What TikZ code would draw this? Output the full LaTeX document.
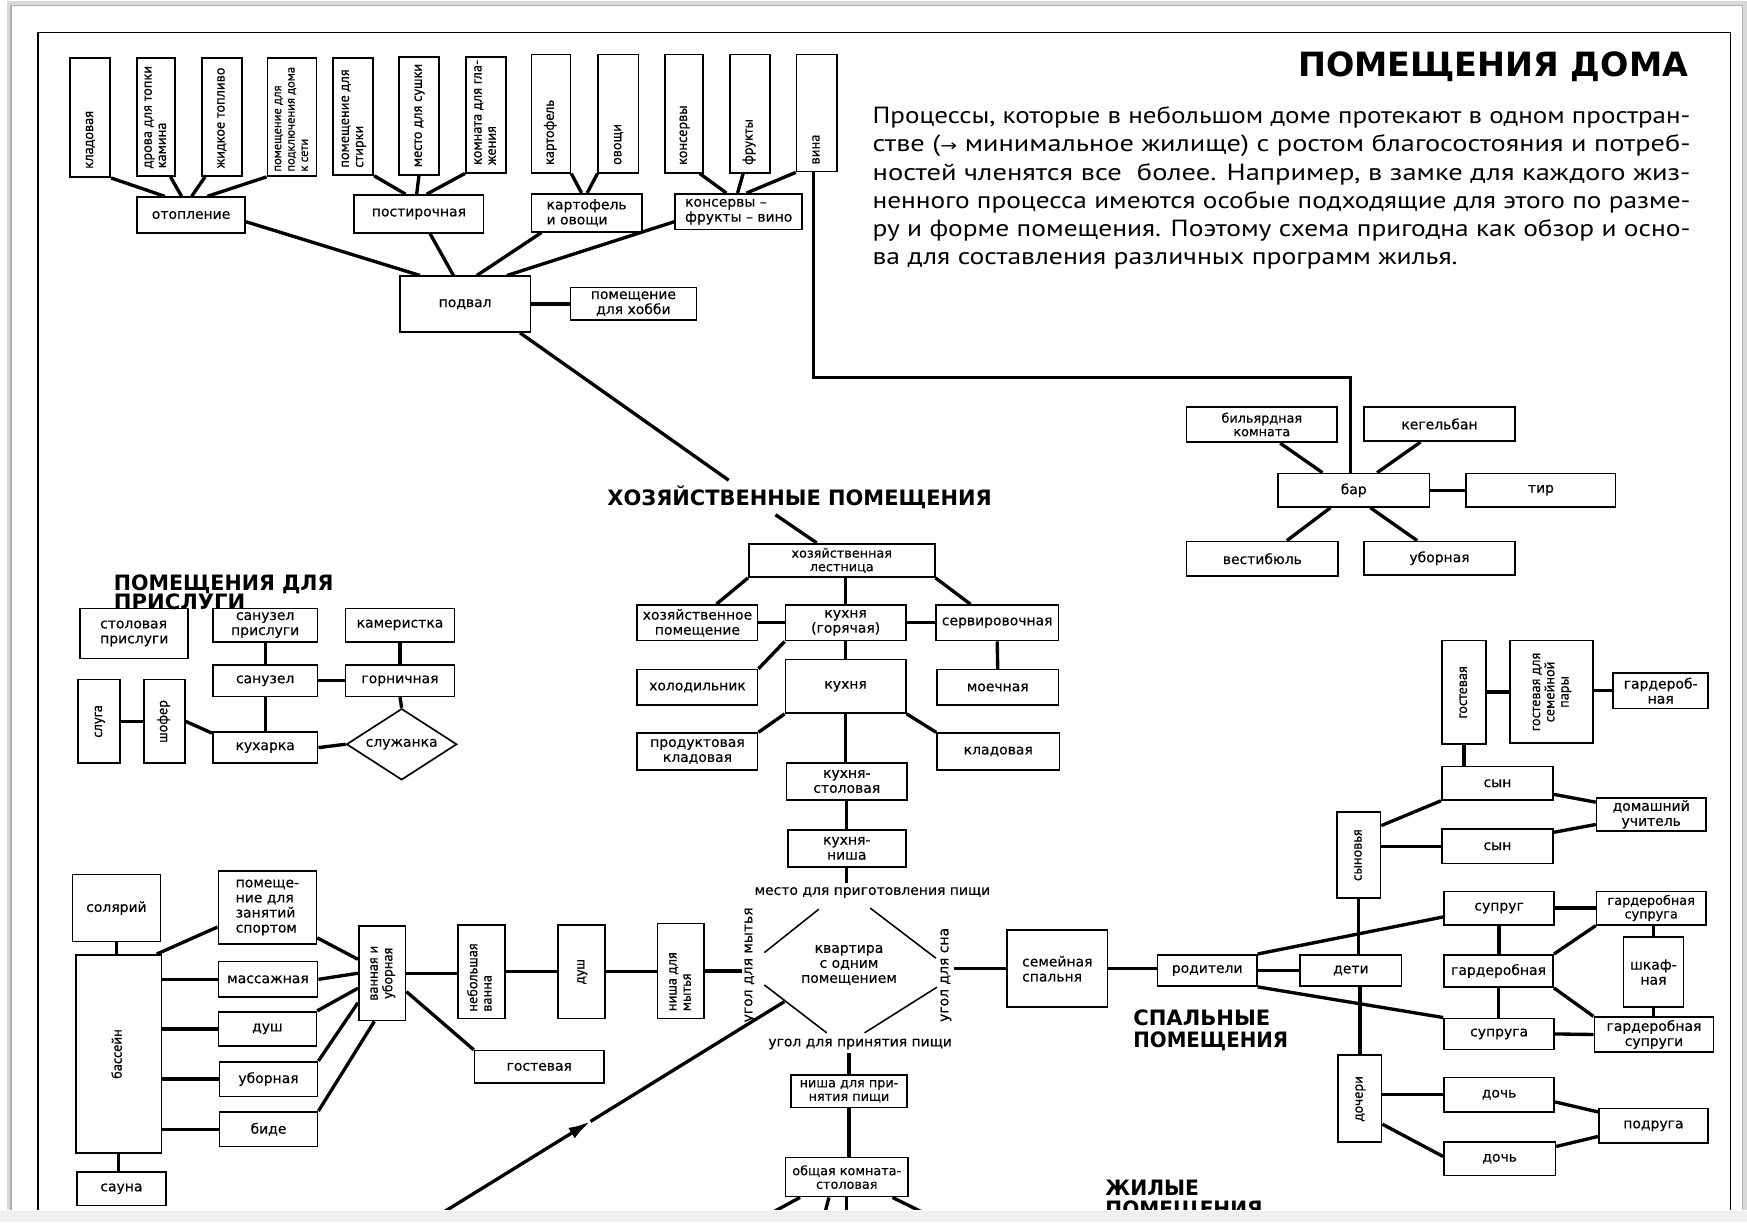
\documentclass[tikz,border=0pt]{standalone}
\usepackage{fontspec}
\usepackage{graphicx}
\usetikzlibrary{shapes.geometric,arrows.meta}
\newfontfamily\dvs{DejaVu Sans}
\newfontfamily\dvsl{DejaVu Sans}[FakeBold=0.35]
\newfontfamily\pts{PT Sans}
\newfontfamily\ptsl{PT Sans}[FakeBold=0.45]
\newcommand\lblf{\dvsl\fontsize{12.5}{13.5}\selectfont}
\newcommand\smf{\dvsl\fontsize{11.5}{12.2}\selectfont}
\newcommand\vlf{\ptsl\fontsize{12.8}{12.8}\selectfont}
\newcommand\vsf{\ptsl\fontsize{11.2}{12}\selectfont}
\newcommand\hdf{\dvs\bfseries\fontsize{19}{19}\selectfont}
\newcommand\ttlf{\dvs\bfseries\fontsize{30}{30}\selectfont}
\newcommand\parf{\pts\fontsize{21}{25}\selectfont}
\newcommand\vb[2]{\rotatebox{90}{\vlf\makebox[#1][l]{\begin{tabular}{@{}l@{}}#2\end{tabular}}}}
\newcommand\vbs[2]{\rotatebox{90}{\vsf\makebox[#1][l]{\begin{tabular}{@{}l@{}}#2\end{tabular}}}}
\newcommand\vcn[1]{\rotatebox{90}{\vlf\begin{tabular}{@{}c@{}}#1\end{tabular}}}
\newcommand\bx[7][]{\node[rbox,minimum width={#5-#3},minimum height={#6-#4},#1] (#2) at ({(#3+#5)/2},{(#4+#6)/2}) {#7};}
\tikzset{
  rbox/.style={draw, line width=1.5pt, inner sep=0pt, font=\lblf, align=center},
  con/.style={line width=3pt},
  thinl/.style={line width=1.4pt},
  hd/.style={anchor=base west, inner sep=0pt, font=\hdf},
  pl/.style={anchor=base west, inner sep=0pt, font=\parf}
}
\begin{document}
\begin{tikzpicture}[x=1pt,y=-1pt]
\useasboundingbox (0,0) rectangle (1568,1097);
\fill[white] (0,0) rectangle (1568,1097);
\fill[gray!12] (0,1087) rectangle (1568,1097);
\draw[gray!30, line width=4pt] (8,1086) -- (8,3) -- (1566,3) -- (1566,1086);
\draw[gray!60, line width=1.2pt] (10,1086) -- (10,5) -- (1564,5) -- (1564,1086);
\draw[line width=1.4pt] (34,1086) -- (34,29) -- (1553,29) -- (1553,1086);
\begin{scope}
\clip (0,0) rectangle (1568,1086);
% ---------- title and paragraph ----------
\node[anchor=base west, inner sep=0pt, font=\ttlf] (title) at (1165,69) {\resizebox{350pt}{\height}{ПОМЕЩЕНИЯ ДОМА}};
\node[pl] (p1) at (783,111) {\resizebox{734pt}{\height}{Процессы, которые в небольшом доме протекают в одном простран-}};
\node[pl] (p2) at (783,136.3) {\resizebox{734pt}{\height}{стве ({\dvs\fontsize{15}{15}\selectfont →} минимальное жилище) с ростом благосостояния и потреб-}};
\node[pl] (p3) at (783,161.6) {\resizebox{734pt}{\height}{ностей членятся все \ более. Например, в замке для каждого жиз-}};
\node[pl] (p4) at (783,186.9) {\resizebox{734pt}{\height}{ненного процесса имеются особые подходящие для этого по разме-}};
\node[pl] (p5) at (783,212.2) {\resizebox{734pt}{\height}{ру и форме помещения. Поэтому схема пригодна как обзор и осно-}};
\node[pl] (p6) at (783,237.5) {\resizebox{525pt}{\height}{ва для составления различных программ жилья.}};
% ---------- headings ----------
\node[hd] (hz) at (545,454) {\resizebox{345pt}{\height}{ХОЗЯЙСТВЕННЫЕ ПОМЕЩЕНИЯ}};
\node[hd] (hpr1) at (102,530) {\resizebox{197pt}{\height}{ПОМЕЩЕНИЯ ДЛЯ}};
\node[hd] (hpr2) at (102,547) {\resizebox{118pt}{\height}{ПРИСЛУГИ}};
\node[hd] (hsp1) at (1017,920) {\resizebox{123pt}{\height}{СПАЛЬНЫЕ}};
\node[hd] (hsp2) at (1017,940) {\resizebox{139pt}{\height}{ПОМЕЩЕНИЯ}};
\node[hd] (hzh1) at (992,1073) {\resizebox{84pt}{\height}{ЖИЛЫЕ}};
\node[hd] (hzh2) at (992,1092) {\resizebox{141pt}{\height}{ПОМЕЩЕНИЯ}};
% ---------- cellar ----------
\bx{kl}{63}{52}{99}{159}{\vb{92pt}{кладовая}}
\bx{dr}{123}{52}{157}{158}{\vb{92pt}{дрова для топки\\камина}}
\bx{zt}{181}{52}{217}{158}{\vb{92pt}{жидкое топливо}}
\bx{pp}{240}{52}{284}{158}{\vbs{98pt}{помещение для\\подключения дома\\к сети}}
\bx{ps}{299}{52}{335}{157}{\vb{92pt}{помещение для\\стирки}}
\bx{ms}{358}{51}{394}{157}{\vb{92pt}{место для сушки}}
\bx{kgl}{418}{51}{454}{155}{\vb{90pt}{комната для гла-\\жения}}
\bx{ka}{477}{49}{512}{155}{\vb{92pt}{картофель}}
\bx{ov}{537}{49}{573}{155}{\vb{92pt}{овощи}}
\bx{ko}{597}{49}{631}{155}{\vb{92pt}{консервы}}
\bx{fr}{655}{49}{691}{155}{\vb{92pt}{фрукты}}
\bx{vi}{715}{49}{751}{154}{\vb{92pt}{вина}}
\bx{ot}{123}{177}{220}{209}{отопление}
\bx{pst}{318}{175}{434}{209}{постирочная}
\bx[align=left]{kov}{477}{174}{576}{208}{картофель\\и овощи}
\bx[align=left]{kfv}{606}{174}{720}{206}{консервы –\\фрукты – вино}
\bx{pod}{359}{248}{476}{298}{подвал}
\bx{hob}{512}{258}{625}{287}{помещение\\для хобби}
% ---------- bar ----------
\bx[font=\smf]{bil}{1065}{365}{1200}{397}{бильярдная\\комната}
\bx{keg}{1224}{365}{1360}{396}{кегельбан}
\bx{bar}{1147}{425}{1283}{455}{бар}
\bx{tir}{1316}{425}{1450}{455}{тир}
\bx{vest}{1065}{486}{1201}{517}{вестибюль}
\bx{ubb}{1224}{486}{1360}{516}{уборная}
% ---------- kitchen ----------
\bx[font=\smf]{hl}{672}{488}{839}{518}{хозяйственная\\лестница}
\bx{hp}{572}{543}{680}{575}{хозяйственное\\помещение}
\bx{kg2}{705}{543}{813}{575}{кухня\\(горячая)}
\bx{serv}{840}{543}{950}{575}{сервировочная}
\bx{hol}{572}{601}{680}{633}{холодильник}
\bx{kuh}{705}{592}{813}{640}{кухня}
\bx{moe}{841}{601}{950}{633}{моечная}
\bx{prk}{572}{658}{680}{691}{продуктовая\\кладовая}
\bx{kld}{841}{658}{951}{691}{кладовая}
\bx{kst}{706}{685}{814}{718}{кухня-\\столовая}
\bx{kn}{707}{745}{813}{778}{кухня-\\ниша}
\bx[font=\smf]{npp}{710}{965}{814}{994}{ниша для при-\\нятия пищи}
\bx[font=\smf]{ok}{705}{1039}{815}{1074}{общая комната-\\столовая}
\bx[align=left]{sem}{904}{835}{994}{904}{семейная\\спальня}
\node[font=\lblf] (mesto) at (783,801) {место для приготовления пищи};
\node[font=\lblf] (ugp) at (772,937) {угол для принятия пищи};
\node[font=\lblf, inner sep=2pt] (ugm) at (673,866) {\rotatebox{90}{угол для мытья}};
\node[font=\lblf, inner sep=2pt] (ugs) at (849,875) {\rotatebox{90}{угол для сна}};
\node[font=\lblf, align=center] (kv) at (762,866) {квартира\\с одним\\помещением};
% ---------- bath / sport ----------
\bx{sol}{65}{785}{144}{845}{солярий}
\bx{bas}{68}{857}{145}{1035}{\vcn{бассейн}}
\bx{sau}{69}{1052}{149}{1082}{сауна}
\bx[align=left]{spo}{196}{782}{284}{847}{помеще-\\ние для\\занятий\\спортом}
\bx{mas}{196}{863}{285}{895}{массажная}
\bx{dus}{196}{908}{284}{939}{душ}
\bx{ubl}{197}{953}{285}{984}{уборная}
\bx{bid}{197}{998}{285}{1029}{биде}
\bx{vu}{322}{831}{364}{916}{\vcn{ванная и\\уборная}}
\bx{nv}{411}{830}{453}{914}{\vb{72pt}{небольшая\\ванна}}
\bx{dv}{501}{830}{543}{914}{\vcn{душ}}
\bx{nm}{590}{829}{632}{914}{\vb{72pt}{ниша для\\мытья}}
\bx{gos}{426}{943}{542}{972}{гостевая}
% ---------- servants ----------
\bx[align=left]{stp}{72}{546}{169}{591}{столовая\\прислуги}
\bx{sup}{191}{546}{285}{576}{санузел\\прислуги}
\bx{kam}{310}{546}{408}{576}{камеристка}
\bx{san}{191}{597}{285}{625}{санузел}
\bx{gor}{310}{597}{408}{625}{горничная}
\bx{slu}{70}{610}{108}{685}{\vcn{слуга}}
\bx{sho}{129}{610}{166}{685}{\vcn{шофер}}
\bx{kuk}{191}{657}{285}{685}{кухарка}
\node[diamond, draw, line width=1.5pt, inner sep=0pt, aspect=1.55, minimum width=99pt, minimum height=64pt, font=\lblf] (slz) at (360.5,668) {служанка};
% ---------- bedrooms ----------
\bx{par}{1039}{857}{1128}{885}{родители}
\bx{det}{1167}{857}{1258}{885}{дети}
\bx{syv}{1200}{729}{1239}{806}{\vcn{сыновья}}
\bx{sy1}{1294}{688}{1394}{718}{сын}
\bx{sy2}{1294}{744}{1394}{775}{сын}
\bx{duc}{1433}{716}{1531}{746}{домашний\\учитель}
\bx{gsv}{1294}{575}{1334}{668}{\vcn{гостевая}}
\bx{gsp}{1355}{575}{1430}{667}{\vcn{гостевая для\\семейной\\пары}}
\bx{gar1}{1448}{604}{1533}{636}{гардероб-\\ная}
\bx{sug}{1296}{800}{1395}{830}{супруг}
\bx[font=\smf]{gsg}{1433}{800}{1531}{830}{гардеробная\\супруга}
\bx{garm}{1296}{857}{1394}{886}{гардеробная}
\bx{shk}{1457}{841}{1511}{904}{шкаф-\\ная}
\bx{sua}{1296}{914}{1395}{942}{супруга}
\bx{gsa}{1431}{913}{1538}{944}{гардеробная\\супруги}
\bx{doc}{1201}{947}{1240}{1025}{\vcn{дочери}}
\bx{do1}{1296}{967}{1395}{998}{дочь}
\bx{pdr}{1435}{995}{1533}{1026}{подруга}
\bx{do2}{1296}{1025}{1396}{1055}{дочь}
% ---------- free ends ----------
\coordinate (hzin) at (654,431);
\coordinate (hzout) at (696,462);
\coordinate (arS) at (398,1088);
\coordinate (arM) at (530,1006.5);
\coordinate (arE) at (704,899);
\coordinate (ob1) at (690,1090);
\coordinate (ob2) at (740,1090);
\coordinate (ob3) at (760,1090);
\coordinate (ob4) at (832,1090);
% ---------- connectors: cellar ----------
\draw[con] (kl.south east) -- ([xshift=-23.5pt]ot.north);
\draw[con] ([xshift=13pt]dr.south) -- ([xshift=-8.5pt]ot.north);
\draw[con] ([xshift=-15pt]zt.south) -- ([xshift=0.5pt]ot.north);
\draw[con] (pp.south west) -- ([xshift=14.5pt]ot.north);
\draw[con] (ps.south east) -- ([xshift=-12pt]pst.north);
\draw[con] (ms.south) -- ([xshift=-2pt]pst.north);
\draw[con] (kgl.south west) -- ([xshift=7pt]pst.north);
\draw[con] (ka.south east) -- ([xshift=-4.5pt]kov.north);
\draw[con] (ov.south west) -- ([xshift=0.5pt]kov.north);
\draw[con] ([xshift=14pt]ko.south) -- ([xshift=-11pt]kfv.north);
\draw[con] ([xshift=-6pt]fr.south) -- ([xshift=-1pt]kfv.north);
\draw[con] (vi.south west) -- ([xshift=7pt]kfv.north);
\draw[con] ([yshift=-6pt]ot.east) -- ([xshift=-40.5pt]pod.north);
\draw[con] ([xshift=10pt]pst.south) -- ([xshift=-10.5pt]pod.north);
\draw[con] ([xshift=-40.5pt]kov.south) -- ([xshift=10.5pt]pod.north);
\draw[con] ([yshift=-9pt]kfv.west) -- ([xshift=37.5pt]pod.north);
\draw[con] (pod.east) -- (pod.east -| hob.west);
\draw[con] ([xshift=-10pt]pod.south east) -- (hzin);
\draw[con] (hzout) -- ([xshift=-22.5pt]hl.north);
% ---------- connectors: bar ----------
\draw[con] ([xshift=-3pt]vi.south) -- ++(0,184) -| ([xshift=-3pt]bar.north);
\draw[con] ([xshift=-28pt]bar.north) -- ([xshift=16.5pt]bil.south);
\draw[con] ([xshift=21pt]bar.north) -- ([xshift=-17pt]keg.south);
\draw[con] ([xshift=-21pt]bar.south) -- ([xshift=22pt]vest.north);
\draw[con] ([xshift=15pt]bar.south) -- ([xshift=-20pt]ubb.north);
\draw[con] (bar.east) -- (tir.west);
% ---------- connectors: kitchen ----------
\draw[con] (hl.south west) -- ([xshift=17pt]hp.north);
\draw[con] ([xshift=3.5pt]hl.south) -- (kg2.north);
\draw[con] (hl.south east) -- ([xshift=-24pt]serv.north);
\draw[con] (hp.east) -- (kg2.west);
\draw[con] (kg2.east) -- (serv.west);
\draw[con] (kg2.south west) -- (hol.north east);
\draw[con] (kg2.south) -- (kuh.north);
\draw[con] (serv.south) -- (moe.north);
\draw[con] (kuh.south west) -- (prk.north east);
\draw[con] (kuh.south) -- (kuh.south |- kst.north);
\draw[con] (kuh.south east) -- (kld.north west);
\draw[con] (kst.south) -- (kst.south |- kn.north);
\draw[con] (kn.south) -- (kn.south |- mesto.north);
\draw[con] (npp.north |- ugp.south) -- (npp.north);
\draw[con] (npp.south) -- (npp.south |- ok.north);
\draw[con] ([xshift=-42pt]ok.south) -- (ob1);
\draw[con] ([xshift=-16pt]ok.south) -- (ob2);
\draw[con] (ok.south) -- (ob3);
\draw[con] ([xshift=41pt]ok.south) -- (ob4);
% one-room flat
\draw[thinl] (686,855) -- (735,816);
\draw[thinl] (781,815) -- (840,860);
\draw[thinl] (686,884) -- (742,927);
\draw[thinl] (776,927) -- (841,886);
\draw[con] (nm.east) -- (nm.east -| ugm.west);
\draw[con] (ugs.east |- sem.west) -- (sem.west);
\draw[con] (sem.east) -- (sem.east -| par.west);
\draw[con, -{Latex[length=20pt,width=11pt]}] (arS) -- (arM);
\draw[con] (arM) -- (arE);
% ---------- connectors: bath / sport ----------
\draw[con] (sol.south) -- (sol.south |- bas.north);
\draw[con] (bas.south) -- (bas.south |- sau.north);
\draw[con] ([xshift=-5pt]bas.north east) -- ([yshift=-17.5pt]spo.west);
\draw[con] (mas.west -| bas.east) -- (mas.west);
\draw[con] (dus.west -| bas.east) -- (dus.west);
\draw[con] (ubl.west -| bas.east) -- (ubl.west);
\draw[con] (bid.west -| bas.east) -- (bid.west);
\draw[con] ([yshift=6pt]spo.south east) -- ([yshift=12.5pt]vu.west);
\draw[con] (mas.east) -- (vu.west);
\draw[con] (dus.north east) -- ([yshift=-13.5pt]vu.west);
\draw[con] (ubl.north east) -- ([yshift=-26.5pt]vu.west);
\draw[con] (bid.north east) -- ([xshift=-7pt]vu.south);
\draw[con] (vu.east) -- (vu.east -| nv.west);
\draw[con] ([yshift=-16.5pt]vu.east) -- (gos.north west);
\draw[con] (nv.east) -- (nv.east -| dv.west);
\draw[con] (dv.east) -- (dv.east -| nm.west);
% ---------- connectors: servants ----------
\draw[con] (sup.south) -- (san.north);
\draw[con] (kam.south) -- (gor.north);
\draw[con] (san.east) -- (gor.west);
\draw[con] (san.south) -- (kuk.north);
\draw[con] (gor.south) -- (slz.north);
\draw[con] (slu.east) -- (slu.east -| sho.west);
\draw[con] (sho.east) -- ([yshift=13pt]kuk.west);
\draw[con] (kuk.east) -- (slz.west);
% ---------- connectors: bedrooms ----------
\draw[con] (par.north east) -- ([yshift=-8pt]sug.west);
\draw[con] (par.east) -- (det.west);
\draw[con] (par.south east) -- (sua.north west);
\draw[con] (syv.south) -- (syv.south |- det.north);
\draw[con] (det.south -| doc.north) -- (doc.north);
\draw[con] ([yshift=26.5pt]syv.east) -- (sy1.south west);
\draw[con] (sy2.west -| syv.east) -- (sy2.west);
\draw[con] (gsv.south) -- (gsv.south |- sy1.north);
\draw[con] (gsv.east |- gsp.west) -- (gsp.west);
\draw[con] (gsp.east |- gar1.west) -- (gar1.west);
\draw[con] ([yshift=-10pt]sy1.east) -- ([yshift=11pt]duc.west);
\draw[con] ([yshift=12.5pt]sy2.east) -- ([yshift=-9pt]duc.west);
\draw[con] (sug.east) -- (gsg.west);
\draw[con] (sug.south) -- (sug.south |- garm.north);
\draw[con] (garm.north east) -- (gsg.south west);
\draw[con] (garm.south east) -- (gsa.north west);
\draw[con] (garm.south) -- (garm.south |- sua.north);
\draw[con] (shk.north |- gsg.south) -- (shk.north);
\draw[con] (shk.south) -- (shk.south |- gsa.north);
\draw[con] (sua.east) -- (gsa.west);
\draw[con] (do1.west -| doc.east) -- (do1.west);
\draw[con] ([yshift=-23pt]doc.east) -- ([yshift=2pt]do2.west);
\draw[con] ([yshift=-6.5pt]do1.east) -- ([yshift=12.5pt]pdr.west);
\draw[con] ([yshift=11pt]do2.east) -- ([yshift=-9.5pt]pdr.west);
\end{scope}
\end{tikzpicture}
\end{document}
